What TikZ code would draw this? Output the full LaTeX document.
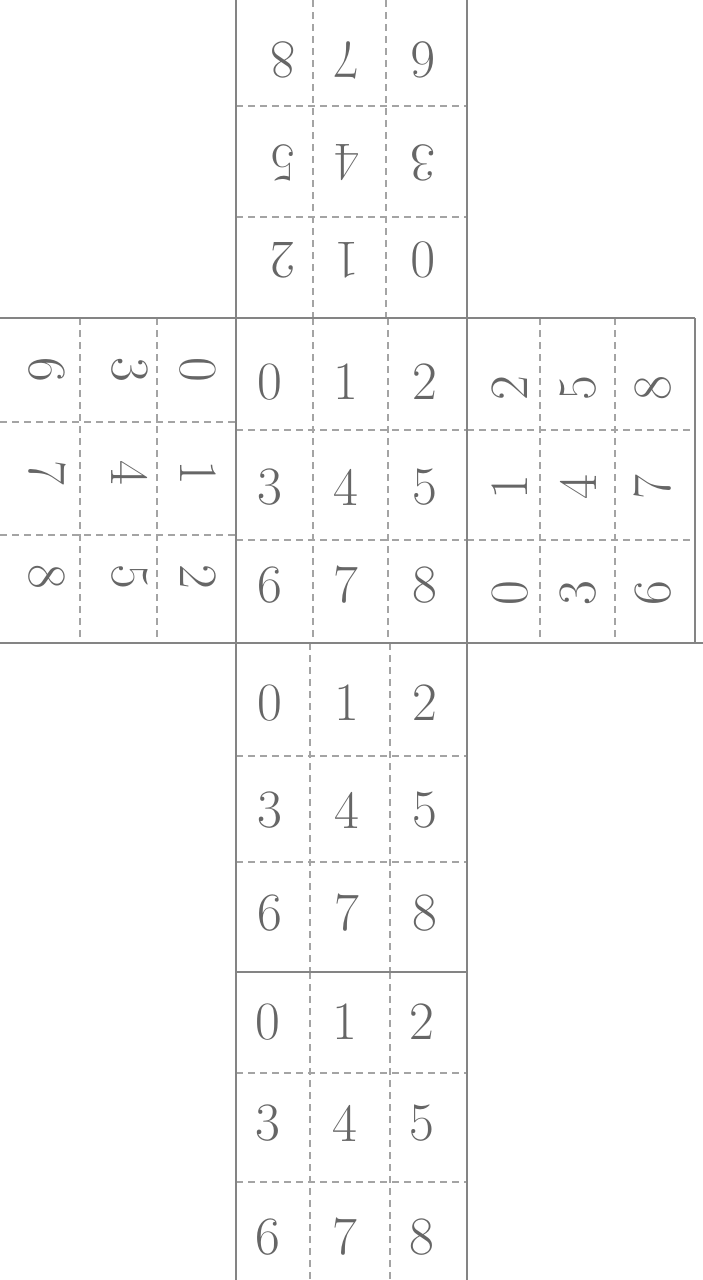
\documentclass[tikz,border=0pt]{standalone}
\definecolor{pencil}{HTML}{666666}
\definecolor{bordergray}{HTML}{848484}
\definecolor{gridgray}{HTML}{A4A4A4}
\tikzset{
  digit/.style={font=\fontsize{54}{54}\selectfont, text=pencil, inner sep=0pt},
  border/.style={draw=bordergray, line width=2.8pt},
  gridline/.style={draw=gridgray, line width=1.1pt, dash pattern=on 7pt off 5pt}
}
\begin{document}
\begin{tikzpicture}[x=1pt,y=-1pt]
\useasboundingbox[fill=white] (0,0) rectangle (703,1280);
% dashed grid lines
% top face
\draw[gridline] (313,0) -- (313,318);
\draw[gridline] (386,0) -- (386,318);
\draw[gridline] (236,106) -- (467,106);
\draw[gridline] (236,217) -- (467,217);
% left face
\draw[gridline] (80,318) -- (80,643);
\draw[gridline] (157,318) -- (157,643);
\draw[gridline] (0,422) -- (236,422);
\draw[gridline] (0,535) -- (236,535);
% centre face
\draw[gridline] (313,318) -- (313,643);
\draw[gridline] (388,318) -- (388,643);
\draw[gridline] (236,430) -- (467,430);
\draw[gridline] (236,540) -- (467,540);
% right face
\draw[gridline] (540,318) -- (540,643);
\draw[gridline] (615,318) -- (615,643);
\draw[gridline] (467,430) -- (695,430);
\draw[gridline] (467,540) -- (695,540);
% bottom face 1
\draw[gridline] (310,643) -- (310,972);
\draw[gridline] (390,643) -- (390,972);
\draw[gridline] (236,756) -- (467,756);
\draw[gridline] (236,862) -- (467,862);
% bottom face 2
\draw[gridline] (310,972) -- (310,1280);
\draw[gridline] (390,972) -- (390,1280);
\draw[gridline] (236,1073) -- (467,1073);
\draw[gridline] (236,1182) -- (467,1182);
% solid borders
\draw[border] (236,0) -- (236,1280);
\draw[border] (467,0) -- (467,1280);
\draw[border] (0,318) -- (695,318);
\draw[border] (0,643) -- (703,643);
\draw[border] (695,318) -- (695,643);
\draw[border] (236,972) -- (467,972);
% top face digits (upside down)
\foreach \v/\x/\y in {8/283/60,7/347/60,6/423/60,5/283/163,4/347/163,3/423/163,2/283/260,1/347/260,0/423/260}
  \node[digit, rotate=180] (t\v) at (\x,\y) {\v};
% left face digits
\foreach \v/\x/\y in {6/47/370,7/47/473,8/47/577,3/130/370,4/130/473,5/130/577,0/198/370,1/198/473,2/198/577}
  \node[digit, rotate=-90] (l\v) at (\x,\y) {\v};
% centre face digits
\foreach \v/\x/\y in {0/270/382,1/346/382,2/425/382,3/270/487,4/346/487,5/425/487,6/270/585,7/346/585,8/425/585}
  \node[digit] (c\v) at (\x,\y) {\v};
% right face digits
\foreach \v/\x/\y in {2/510/388,1/510/487,0/510/593,5/578/388,4/578/487,3/578/593,8/653/388,7/653/487,6/653/593}
  \node[digit, rotate=90] (r\v) at (\x,\y) {\v};
% bottom face 1
\foreach \v/\x/\y in {0/270/703,1/347/703,2/425/703,3/270/810,4/347/810,5/425/810,6/270/913,7/347/913,8/425/913}
  \node[digit] (b\v) at (\x,\y) {\v};
% bottom face 2
\foreach \v/\x/\y in {0/268/1022,1/345/1022,2/422/1022,3/268/1123,4/345/1123,5/422/1123,6/268/1237,7/345/1237,8/422/1237}
  \node[digit] (d\v) at (\x,\y) {\v};
\end{tikzpicture}
\end{document}
